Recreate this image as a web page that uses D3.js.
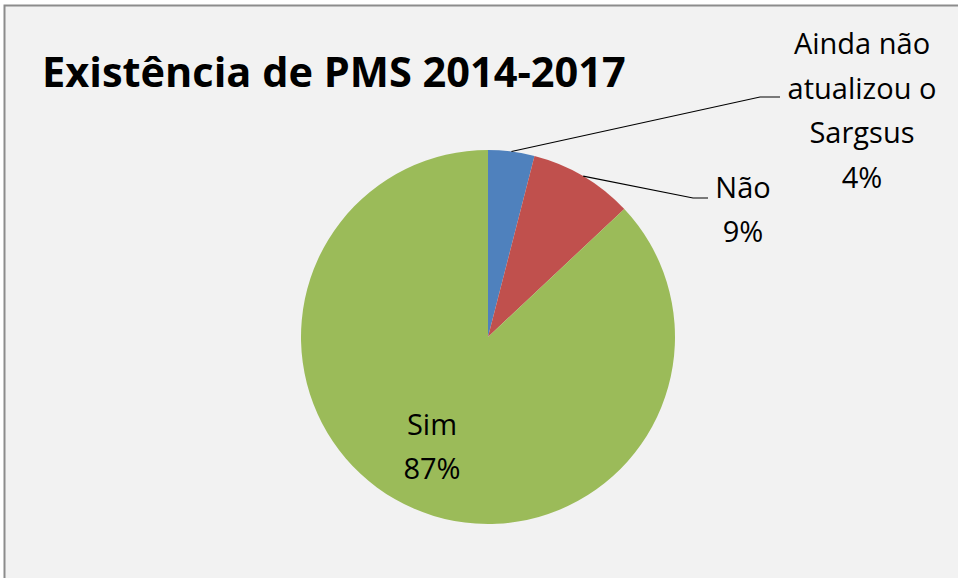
<!DOCTYPE html>
<html>
<head>
<meta charset="utf-8">
<script src="https://cdn.jsdelivr.net/npm/d3@7"></script>
<style>
  html, body { margin: 0; padding: 0; background: #fff; }
  text { font-family: "Open Sans", "Noto Sans", sans-serif; }
</style>
</head>
<body>
<div id="chart"></div>
<script>
const categories = ['Ainda não atualizou o Sargsus', 'Não', 'Sim'];
const values = [4, 9, 87];
const labelLines = [['Ainda não', 'atualizou o', 'Sargsus', '4%'], ['Não', '9%'], ['Sim', '87%']];
const colors = ['#4f81bd', '#c0504d', '#9bbb59'];

const width = 958, height = 578;
const cx = 488, cy = 337, radius = 187;

const svg = d3.select('#chart')
  .append('svg')
  .attr('width', width)
  .attr('height', height);

svg.append('rect')
  .attr('x', 4.5).attr('y', 5.5)
  .attr('width', width + 10).attr('height', height + 10)
  .attr('fill', '#f2f2f2')
  .attr('stroke', '#8c8c8c')
  .attr('stroke-width', 2);

svg.append('text')
  .attr('x', 42).attr('y', 87)
  .attr('font-size', 41.5)
  .attr('font-weight', 'bold')
  .attr('fill', '#000')
  .text('Existência de PMS 2014-2017');

const pie = d3.pie().sort(null).value(d => d);
const arcs = pie(values);
const arc = d3.arc().innerRadius(0).outerRadius(radius);

const g = svg.append('g').attr('transform', `translate(${cx},${cy})`);

g.selectAll('path')
  .data(arcs)
  .enter()
  .append('path')
  .attr('d', arc)
  .attr('fill', (d, i) => colors[i]);

// label anchors (centre of text block) and leader line elbows, relative to pie centre
const labelPos = [
  { x: 374, y: -226, elbow: [272, -240], end: [292, -240] },
  { x: 255, y: -127, elbow: [205, -139], end: [220, -139] },
  { x: -56, y: 110 }
];

arcs.forEach((d, i) => {
  const p = labelPos[i];
  if (p.elbow) {
    const a = (d.startAngle + d.endAngle) / 2;
    const start = [radius * Math.sin(a), -radius * Math.cos(a)];
    g.append('polyline')
      .attr('points', [start, p.elbow, p.end].map(q => q.join(',')).join(' '))
      .attr('fill', 'none')
      .attr('stroke', '#000')
      .attr('stroke-width', 1.2);
  }
  const lines = labelLines[i];
  const lh = 44.5;
  const t = g.append('text')
    .attr('text-anchor', 'middle')
    .attr('font-size', 29)
    .attr('fill', '#000');
  lines.forEach((s, k) => {
    t.append('tspan')
      .attr('x', p.x)
      .attr('y', p.y + (k - (lines.length - 1) / 2) * lh + 10)
      .text(s);
  });
});
</script>
</body>
</html>
